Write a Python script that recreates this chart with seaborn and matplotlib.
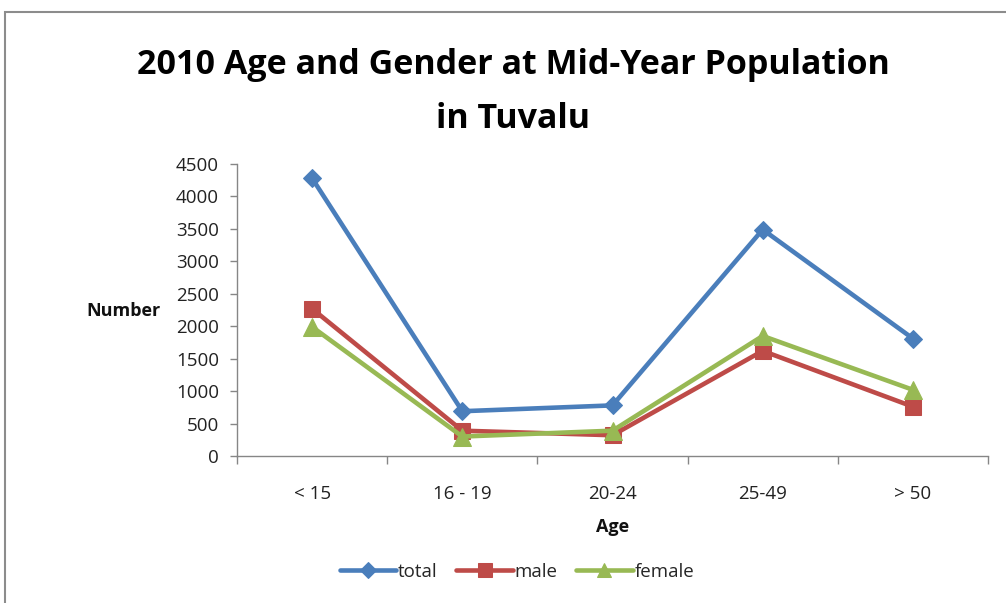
import numpy as np
import pandas as pd
import matplotlib
matplotlib.use("Agg")
import matplotlib.pyplot as plt
import seaborn as sns
from matplotlib.patches import Rectangle

categories = ["< 15", "16 - 19", "20-24", "25-49", "> 50"]
total = [4280, 690, 780, 3490, 1810]
male = [2270, 390, 320, 1620, 760]
female = [1990, 300, 390, 1850, 1020]
series_names = ["total", "male", "female"]
y_ticks = [0, 500, 1000, 1500, 2000, 2500, 3000, 3500, 4000, 4500]

sns.set_theme(style="white")
plt.rcParams['font.family'] = ['Open Sans', 'DejaVu Sans']

pos = np.arange(len(categories))
df = pd.DataFrame({
    "pos": np.tile(pos, 3),
    "value": total + male + female,
    "series": np.repeat(series_names, len(categories)),
})

colors = {"total": "#4A7EBB", "male": "#BE4B48", "female": "#98B954"}
markers = {"total": "D", "male": "s", "female": "^"}
msizes = {"total": 9.5, "male": 11.5, "female": 12.5}

fig = plt.figure(figsize=(10.06, 6.03), dpi=100)
fig.patch.set_facecolor("white")
ax = fig.add_axes([237/1006, 1-456/603, (988-237)/1006, (456-164)/603])

for name in series_names:
    sub = df[df.series == name]
    sns.lineplot(data=sub, x="pos", y="value", ax=ax, color=colors[name],
                 marker=markers[name], markersize=msizes[name],
                 markeredgecolor=colors[name], linewidth=3.3, label=name,
                 legend=False)

ax.set_xlim(-0.5, len(categories) - 0.5)
ax.set_ylim(0, 4500)
ax.set_yticks(y_ticks)
ax.set_yticklabels([str(v) for v in y_ticks])
ax.set_xticks(pos)
ax.set_xticklabels(categories)
ax.set_xticks(np.arange(-0.5, len(categories)), minor=True)
ax.tick_params(axis="x", which="major", length=0, pad=21, labelsize=13.5, colors="#222222")
ax.tick_params(axis="x", which="minor", length=6, width=1, color="#868686", bottom=True)
ax.tick_params(axis="y", which="major", length=5, width=1, color="#868686", left=True,
               labelsize=13.5, colors="#222222", pad=8)
for s in ["top", "right"]:
    ax.spines[s].set_visible(False)
for s in ["left", "bottom"]:
    ax.spines[s].set_color("#868686")
    ax.spines[s].set_linewidth(1)
ax.set_xlabel("")
ax.set_ylabel("")
ax.grid(False)

fig.text(124/1006, 1-311/603, "Number", ha="center", va="center", fontsize=13,
         fontweight="bold", color="#111111")
fig.text(613/1006, 1-527/603, "Age", ha="center", va="center", fontsize=13,
         fontweight="bold", color="#111111")
fig.text(513/1006, 1-92/603, "2010 Age and Gender at Mid-Year Population\nin Tuvalu",
         ha="center", va="center", fontsize=24.5, fontweight="bold", color="#000000",
         linespacing=1.75)

handles, labels = ax.get_legend_handles_labels()
fig.legend(handles, labels, loc="center", bbox_to_anchor=(517/1006, 1-572/603),
           ncol=3, frameon=False, fontsize=13.5, handlelength=3.0,
           handletextpad=0.1, columnspacing=1.0, markerscale=0.85)

fig.add_artist(Rectangle((5/1006, -0.05), 1.2, 1-12/603 + 0.05,
                         transform=fig.transFigure, fill=False,
                         edgecolor="#8C8C8C", linewidth=1.5))

fig.savefig("out.png", dpi=100)
